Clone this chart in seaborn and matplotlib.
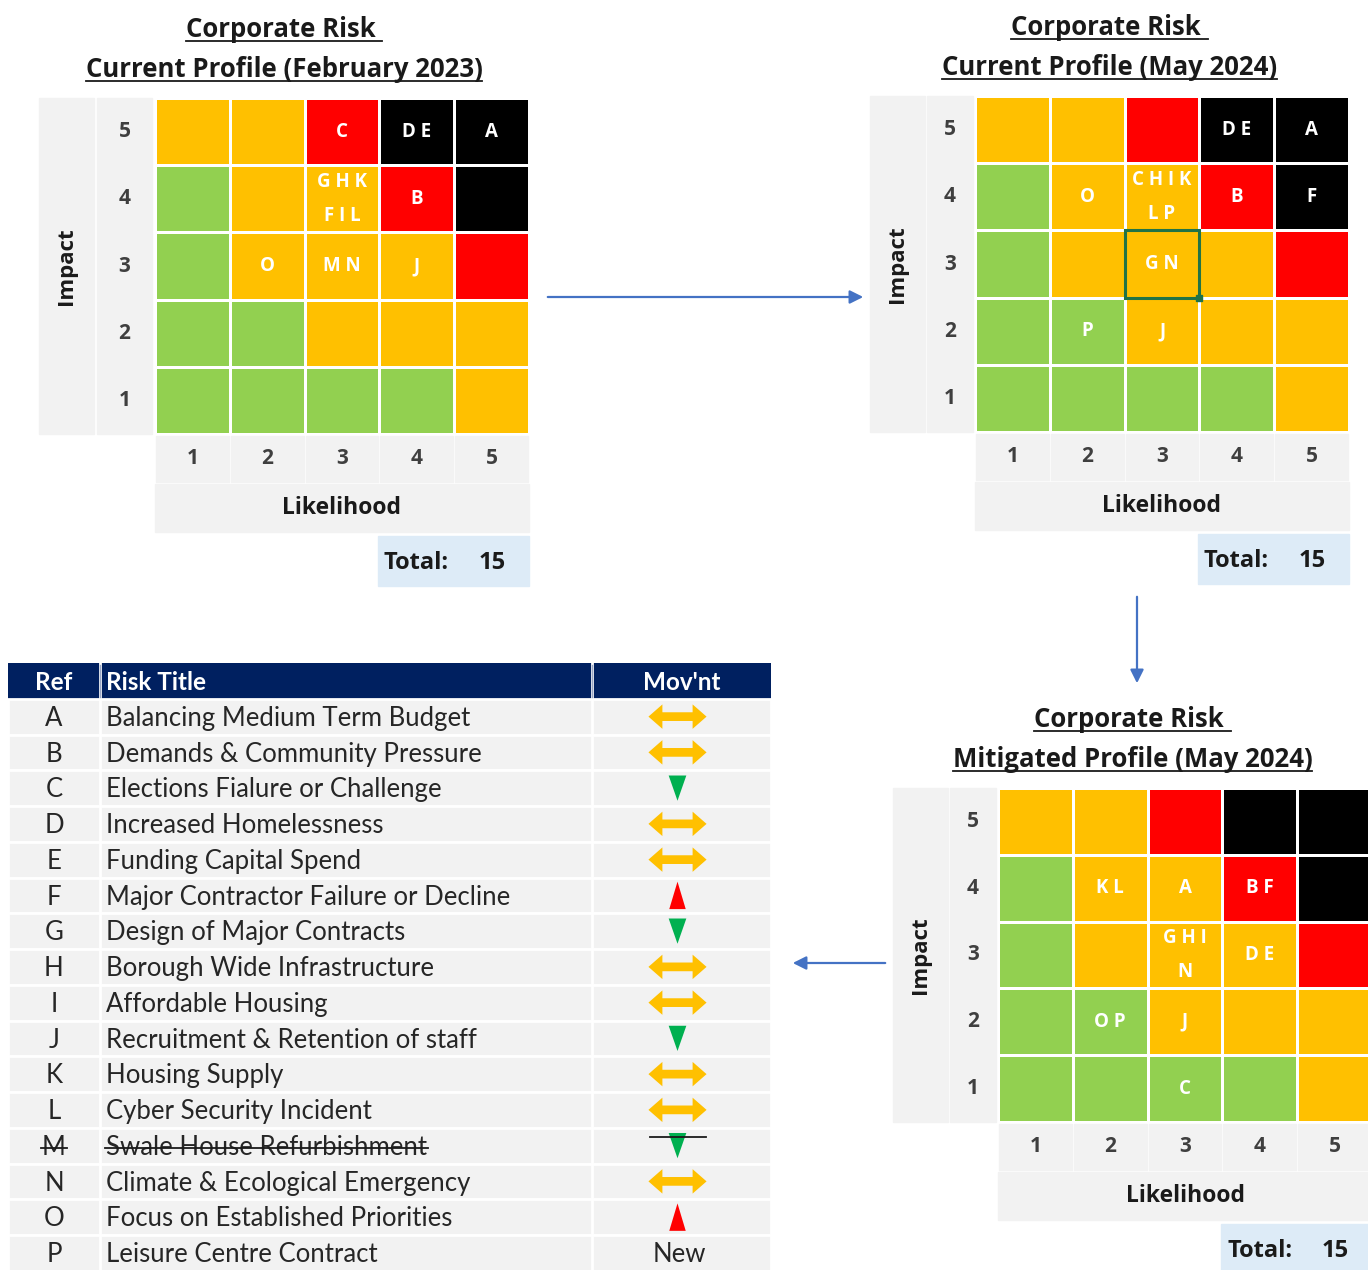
"""Corporate risk profile: three 5x5 risk matrices plus the risk register table."""

import matplotlib

matplotlib.use("Agg")
import matplotlib.pyplot as plt
import numpy as np
import pandas as pd
import seaborn as sns
from matplotlib.colors import ListedColormap
from matplotlib.lines import Line2D
from matplotlib.patches import Rectangle

W, H = 1368, 1270

# --- matrix data -------------------------------------------------------
likelihood = [1, 2, 3, 4, 5]
impact = [5, 4, 3, 2, 1]
# 0 green, 1 amber, 2 red, 3 black ; rows run impact 5 -> 1
rating = [
    [1, 1, 2, 3, 3],
    [0, 1, 1, 2, 3],
    [0, 1, 1, 1, 2],
    [0, 0, 1, 1, 1],
    [0, 0, 0, 0, 1],
]
rating_colors = ["#92D050", "#FFC000", "#FF0000", "#000000"]

# (likelihood, impact, refs in that cell)
feb23_refs = [(3, 5, "C"), (4, 5, "D E"), (5, 5, "A"), (3, 4, "G H K\nF I L"),
              (4, 4, "B"), (2, 3, "O"), (3, 3, "M N"), (4, 3, "J")]
may24_refs = [(4, 5, "D E"), (5, 5, "A"), (2, 4, "O"), (3, 4, "C H I K\nL P"),
              (4, 4, "B"), (5, 4, "F"), (3, 3, "G N"), (2, 2, "P"), (3, 2, "J")]
mitigated_refs = [(2, 4, "K L"), (3, 4, "A"), (4, 4, "B F"), (3, 3, "G H I\nN"),
                  (4, 3, "D E"), (2, 2, "O P"), (3, 2, "J"), (3, 1, "C")]

# --- register data -----------------------------------------------------
refs = list("ABCDEFGHIJKLMNOP")
risk_titles = [
    "Balancing Medium Term Budget",
    "Demands & Community Pressure",
    "Elections Fialure or Challenge",
    "Increased Homelessness",
    "Funding Capital Spend",
    "Major Contractor Failure or Decline",
    "Design of Major Contracts",
    "Borough Wide Infrastructure",
    "Affordable Housing",
    "Recruitment & Retention of staff",
    "Housing Supply",
    "Cyber Security Incident",
    "Swale House Refurbishment",
    "Climate & Ecological Emergency",
    "Focus on Established Priorities",
    "Leisure Centre Contract",
]
movement = ["same", "same", "down", "same", "same", "up", "down", "same",
            "same", "down", "same", "same", "down", "same", "up", "new"]
closed_refs = ["M"]

HEAD_FONT = ["Open Sans", "DejaVu Sans"]
TABLE_FONT = ["Lato", "DejaVu Sans"]
PANEL = "#F2F2F2"
TXT = "#262626"
DARK = "#1a1a1a"
ARROW = "#4472C4"


def px(x0, y0, x1, y1):
    return [x0 / W, 1 - y1 / H, (x1 - x0) / W, (y1 - y0) / H]


fig = plt.figure(figsize=(W / 100, H / 100), dpi=100)
canvas = fig.add_axes([0, 0, 1, 1])
canvas.set_xlim(0, W)
canvas.set_ylim(H, 0)
canvas.axis("off")

underlines = []
strikes = []


def draw_matrix(gx, gy, title, cells, num_w=55, gap=3, cw=74.8, ch=67.2, highlight=None):
    gw, gh = 5 * cw, 5 * ch
    num_x = gx - gap - num_w
    imp_x = num_x - gap - 55
    # grey side / bottom panels
    canvas.add_patch(Rectangle((imp_x, gy), 55, gh, color=PANEL))
    canvas.add_patch(Rectangle((num_x, gy), num_w, gh, color=PANEL))
    for i in range(5):
        canvas.add_patch(Rectangle((gx + i * cw + 1, gy + gh + 2), cw - 2, 46, color=PANEL))
    canvas.add_patch(Rectangle((gx, gy + gh + 50), gw, 48, color=PANEL))
    canvas.add_patch(Rectangle((gx + gw - 151, gy + gh + 102), 151, 50, color="#DDEBF7"))

    labels = np.full((5, 5), "", dtype=object)
    for lk, im, txt in cells:
        labels[impact.index(im), likelihood.index(lk)] = txt
    total = len({c for _, _, t in cells for c in t if c.isalpha()})

    ax = fig.add_axes(px(gx, gy, gx + gw, gy + gh))
    sns.heatmap(pd.DataFrame(rating, index=impact, columns=likelihood), ax=ax,
                cmap=ListedColormap(rating_colors), vmin=-0.5, vmax=3.5, cbar=False,
                annot=labels, fmt="", linewidths=2, linecolor="white",
                annot_kws={"color": "white", "fontsize": 13.5, "fontweight": "bold",
                           "family": HEAD_FONT, "linespacing": 1.95})
    ax.tick_params(length=0, labelsize=15, labelcolor="#3f3f3f")
    ax.tick_params(axis="y", pad=(gap + num_w / 2) / 1.389, rotation=0)
    ax.tick_params(axis="x", pad=25 / 1.389)
    for t in ax.get_yticklabels():
        t.set_ha("center")
        t.set_fontweight("bold")
        t.set_family(HEAD_FONT)
    for t in ax.get_xticklabels():
        t.set_va("center")
        t.set_fontweight("bold")
        t.set_family(HEAD_FONT)
    ax.set_xlabel("Likelihood", fontsize=16.5, fontweight="bold", family=HEAD_FONT, color=DARK)
    ax.set_ylabel("Impact", fontsize=16, fontweight="bold", family=HEAD_FONT, color=DARK)
    ax.xaxis.set_label_coords(0.5, -74 / gh)
    ax.xaxis.label.set_va("center")
    ax.yaxis.set_label_coords((imp_x + 27.5 - gx) / gw, 0.5)
    ax.yaxis.label.set_va("center")

    if highlight is not None:
        c, r = likelihood.index(highlight[0]), impact.index(highlight[1])
        ax.add_patch(Rectangle((c, r), 1, 1, fill=False, ec="#217346", lw=2.2, zorder=5))
        ax.plot(c + 1, r + 1, marker="s", ms=5, color="#217346", zorder=6, clip_on=False)

    # totals
    canvas.text(gx + gw - 145, gy + gh + 129, "Total:", fontsize=17, fontweight="bold",
                family=HEAD_FONT, va="center", color=DARK)
    canvas.text(gx + gw - 50, gy + gh + 129, str(total), fontsize=17, fontweight="bold",
                family=HEAD_FONT, va="center", color=DARK)

    # titles
    cx = (imp_x + gx + gw) / 2
    for k, line in enumerate(title):
        base = gy - 61 + 40 * k
        t = canvas.text(cx, base, line, fontsize=18.5, fontweight="bold", family=HEAD_FONT,
                        ha="center", va="baseline", color=DARK)
        underlines.append((t, base + 4))


draw_matrix(155, 98, ["Corporate Risk ", "Current Profile (February 2023)"], feb23_refs)
draw_matrix(975, 96, ["Corporate Risk ", "Current Profile (May 2024)"], may24_refs,
            num_w=46, gap=2, highlight=(3, 3))
draw_matrix(998, 788, ["Corporate Risk ", "Mitigated Profile (May 2024)"], mitigated_refs,
            num_w=46, gap=2, ch=66.8)

# connecting arrows
arrow_kw = dict(arrowstyle="-|>", color=ARROW, lw=1.6, mutation_scale=20)
canvas.annotate("", xy=(866, 297), xytext=(545, 297), arrowprops=arrow_kw)
canvas.annotate("", xy=(1137, 686), xytext=(1137, 594), arrowprops=arrow_kw)
canvas.annotate("", xy=(790, 963), xytext=(888, 963), arrowprops=arrow_kw)

# --- register table ----------------------------------------------------
tx0, tx1, c1, c2 = 8, 771, 100, 592
tab = fig.add_axes(px(tx0, 663, tx1, 663 + 17 * 35.75))
tab.add_patch(Rectangle((tx0, 0), tx1 - tx0, 1, color="#002060"))
for i in range(len(refs)):
    tab.add_patch(Rectangle((tx0, i + 1), tx1 - tx0, 1, fc=PANEL, ec="white", lw=2))
tab.plot([c1, c1], [0, 17], color="white", lw=2)
tab.plot([c2, c2], [0, 17], color="white", lw=2)
tab.plot([c1, c1], [0.05, 0.95], color="#9aa6c4", lw=1)
tab.plot([c2, c2], [0.05, 0.95], color="#9aa6c4", lw=1)

hdr = dict(color="white", fontsize=17.5, fontweight="bold", family=TABLE_FONT, va="center")
tab.text((tx0 + c1) / 2, 0.55, "Ref", ha="center", **hdr)
tab.text(c1 + 6, 0.55, "Risk Title", ha="left", **hdr)
tab.text((c2 + tx1) / 2, 0.55, "Mov'nt", ha="center", **hdr)

mov_x = (c2 + tx1) / 2 - 4
for i, (ref, title, mv) in enumerate(zip(refs, risk_titles, movement)):
    y = i + 1.55
    kw = dict(color=TXT, fontsize=18.5, family=TABLE_FONT, va="center")
    t1 = tab.text((tx0 + c1) / 2, y, ref, ha="center", **kw)
    t2 = tab.text(c1 + 6, y, title, ha="left", **kw)
    if mv == "new":
        tab.text(mov_x + 2, y, "New", ha="center", **kw)
    if ref in closed_refs:
        strikes.extend([t1, t2])
        tab.plot([mov_x - 28, mov_x + 28], [y - 0.3, y - 0.3], color=DARK, lw=1.3, zorder=5)

both_arrow = [(-1, 0), (-0.52, 0.42), (-0.52, 0.15), (0.52, 0.15), (0.52, 0.42),
              (1, 0), (0.52, -0.42), (0.52, -0.15), (-0.52, -0.15), (-0.52, -0.42)]
up_tri = [(0, 1), (-0.6, -1), (0.6, -1)]
down_tri = [(0, -1), (-0.7, 1), (0.7, 1)]

mov = pd.DataFrame({"row": np.arange(len(refs)) + 1.5, "movement": movement})
mov = mov[mov["movement"] != "new"].assign(x=mov_x)
sns.scatterplot(data=mov, x="x", y="row", hue="movement", style="movement", size="movement",
                palette={"same": "#FFC000", "down": "#00B050", "up": "#FF0000"},
                markers={"same": both_arrow, "down": down_tri, "up": up_tri},
                sizes={"same": 1750, "down": 330, "up": 390},
                linewidth=0, legend=False, ax=tab, zorder=4)
tab.set_xlim(tx0, tx1)
tab.set_ylim(17, 0)
tab.axis("off")

# underline titles / strike closed risks
fig.canvas.draw()
renderer = fig.canvas.get_renderer()
for t, y in underlines:
    bb = t.get_window_extent(renderer)
    canvas.plot([bb.x0, bb.x1], [y, y], color=DARK, lw=1.3)
for t in strikes:
    bb = t.get_window_extent(renderer)
    ym = (bb.y0 + bb.y1) / 2 - 1
    fig.add_artist(Line2D([bb.x0 - 1, bb.x1 + 1], [ym, ym], transform=None,
                          color=DARK, lw=1.3, zorder=10))

fig.savefig("out.png", dpi=100, facecolor="white")
